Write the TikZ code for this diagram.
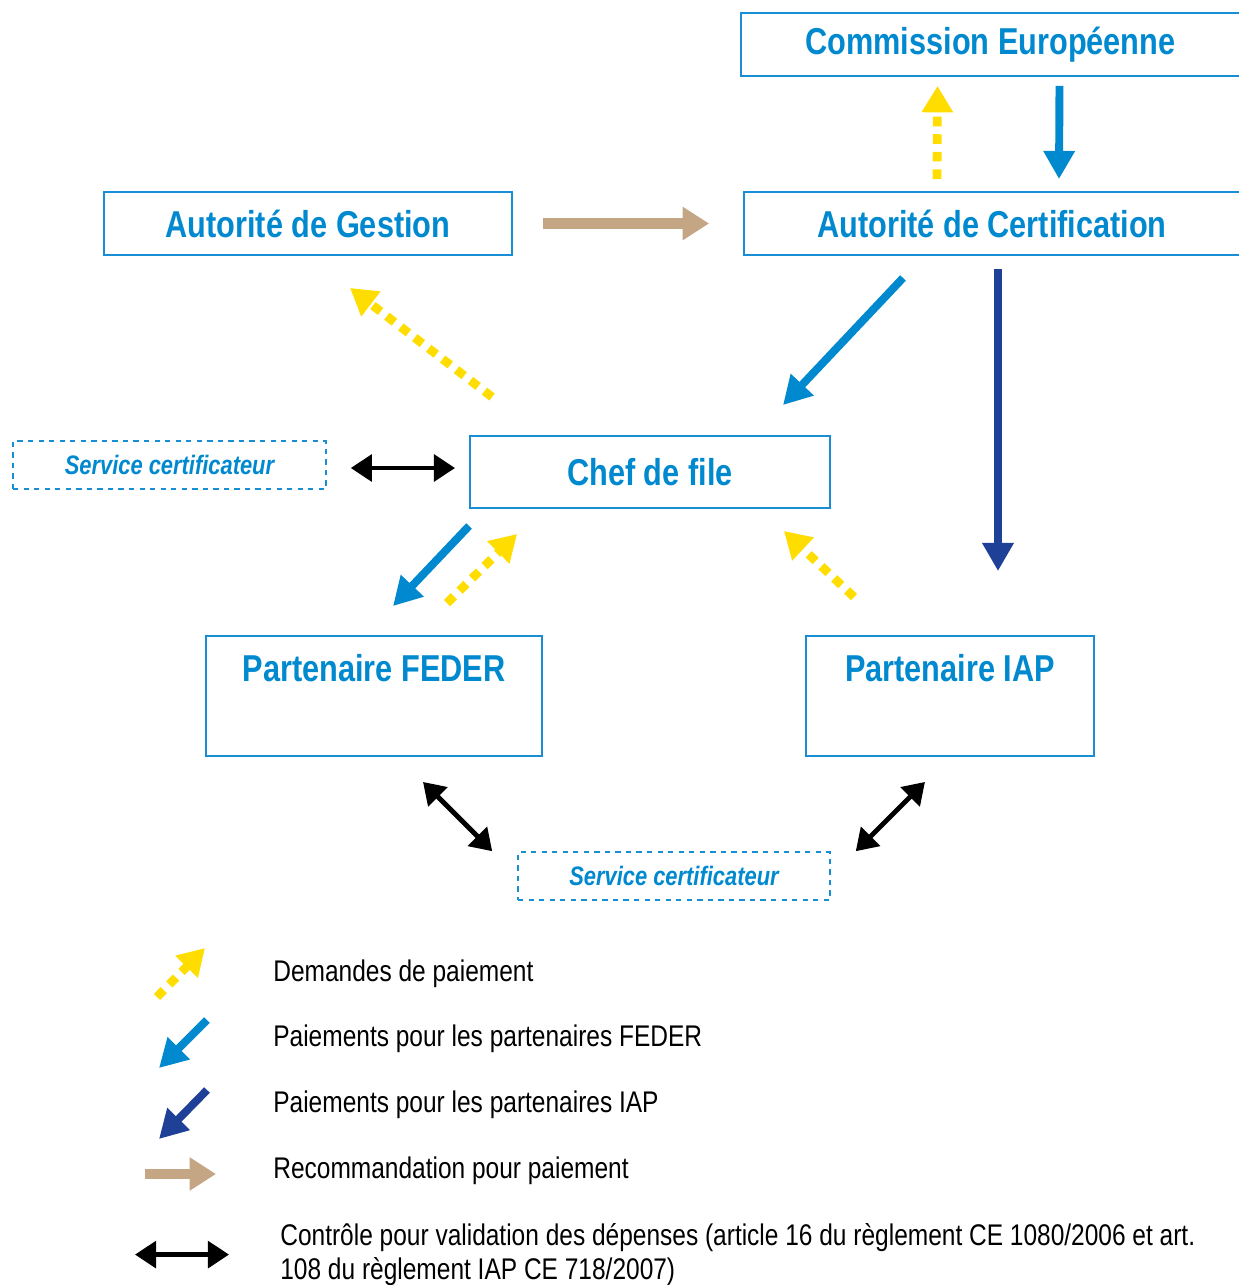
\documentclass[tikz,border=0pt]{standalone}
\usepackage{fontspec}
\setmainfont[FakeStretch=0.82]{Liberation Sans}
\usepackage{tikz}
\usetikzlibrary{arrows.meta, calc, positioning}
\definecolor{cadre}{RGB}{24,142,212}
\definecolor{titre}{RGB}{0,137,207}
\definecolor{paiefeder}{RGB}{0,137,207}
\definecolor{paieiap}{RGB}{30,64,150}
\definecolor{demande}{RGB}{255,221,0}
\definecolor{recom}{RGB}{196,166,132}
\tikzstyle{organe} = [
  rectangle, draw=cadre, line width=1.1pt,
  text=titre, font=\fontsize{21.3}{25}\selectfont\bfseries,
  inner sep=0pt
]
\tikzstyle{service} = [
  rectangle, draw=cadre, dashed, line width=0.9pt,
  text=titre, font=\fontsize{15.2}{18}\selectfont\bfseries\itshape,
  inner sep=0pt
]
\tikzstyle{legende} = [anchor=west, inner sep=0pt, font=\fontsize{17}{19.5}\selectfont]
\tikzstyle{paiement} = [line width=4.5pt, -{Triangle[length=16pt,width=17pt]}]
\tikzstyle{demandepaie} = [demande, line width=5pt, dash pattern=on 5.5pt off 4.5pt,
  -{Triangle[length=15pt,width=17pt]}]
\tikzstyle{recommande} = [recom, line width=6pt, -{Triangle[length=15pt,width=18pt]}]
\tikzstyle{controle} = [black, line width=2.8pt,
  {Triangle[length=12pt,width=15pt]}-{Triangle[length=12pt,width=15pt]}]

\begin{document}
\begin{tikzpicture}[x=0.02cm, y=-0.02cm]

  \useasboundingbox (0,0) rectangle (1238,1285);

  % Organes
  \node[organe, minimum width=9.98cm, minimum height=1.26cm] (ce) at (990.5,44.5) {Commission Européenne};
  \node[organe, minimum width=9.92cm, minimum height=1.26cm] (ac) at (992,223.5) {Autorité de Certification};
  \node[organe, minimum width=8.16cm, minimum height=1.26cm] (ag) at (308,223.5) {Autorité de Gestion};
  \node[organe, minimum width=7.2cm, minimum height=1.44cm] (chef) at (650,472) {Chef de file};

  % Partenaires
  \node[organe, minimum width=6.72cm, minimum height=2.4cm,
        label={[organe, draw=none, anchor=north, yshift=-0.36cm]north:Partenaire FEDER}] (feder) at (374,696) {};
  \node[organe, minimum width=5.76cm, minimum height=2.4cm,
        label={[organe, draw=none, anchor=north, yshift=-0.36cm]north:Partenaire IAP}] (iap) at (950,696) {};

  % Services certificateurs
  \node[service, minimum width=6.26cm, minimum height=0.96cm] (sc1) at (169.5,465) {Service certificateur};
  \node[service, minimum width=6.24cm, minimum height=0.96cm] (sc2) at (674,876) {Service certificateur};

  % Flux
  \draw[demandepaie] ($(ac.north)+(-55,-12)$) -- ($(ce.south)+(-53,9)$);
  \draw[paiement, paiefeder] ($(ce.south)+(69,9)$) -- ($(ac.north)+(67,-12)$);
  \draw[recommande] ($(ag.east)+(30,0)$) -- ($(ac.west)+(-34,0)$);
  \draw[demandepaie] ($(chef.north west)+(23,-38)$) -- ($(ag.south)+(42,32)$);
  \draw[paiement, paiefeder] ($(ac.south)+(-89,22)$) -- ($(chef.north)+(133,-30)$);
  \draw[paiement, paieiap] ($(ac.south)+(6,13)$) -- ($(iap.north)+(48,-64)$);
  \draw[controle] ($(sc1.east)+(24,3)$) -- ($(chef.west)+(-14,-4)$);
  \draw[paiement, paiefeder] ($(chef.south west)+(0,17)$) -- ($(feder.north)+(19,-29)$);
  \draw[demandepaie] ($(feder.north)+(73,-32)$) -- ($(chef.south west)+(48,25)$);
  \draw[demandepaie] ($(iap.north west)+(49,-38)$) -- ($(chef.south east)+(-47,22)$);
  \draw[controle] ($(feder.south)+(49,25)$) -- ($(sc2.north west)+(-25,0)$);
  \draw[controle] ($(iap.south)+(-25,25)$) -- ($(sc2.north east)+(25,0)$);

  % Legende
  \node[legende] (l1) at (273,974) {Demandes de paiement};
  \node[legende] (l2) at (273,1039) {Paiements pour les partenaires FEDER};
  \node[legende] (l3) at (273,1105) {Paiements pour les partenaires IAP};
  \node[legende] (l4) at (273,1171) {Recommandation pour paiement};
  \node[legende, anchor=north west, align=left] (l5) at (280,1223)
    {Contrôle pour validation des dépenses (article 16 du règlement CE 1080/2006 et art.\\108 du règlement IAP CE 718/2007)};

  \draw[demandepaie] ($(l1.west)+(-116,23)$) -- ($(l1.west)+(-68,-26)$);
  \draw[paiement, paiefeder] ($(l2.west)+(-66,-19)$) -- ($(l2.west)+(-114,29)$);
  \draw[paiement, paieiap] ($(l3.west)+(-66,-15)$) -- ($(l3.west)+(-114,34)$);
  \draw[recommande] ($(l4.west)+(-128,3)$) -- ($(l4.west)+(-57,3)$);
  \draw[controle] ($(l5.west)+(-145,0)$) -- ($(l5.west)+(-51,0)$);

\end{tikzpicture}
\end{document}
